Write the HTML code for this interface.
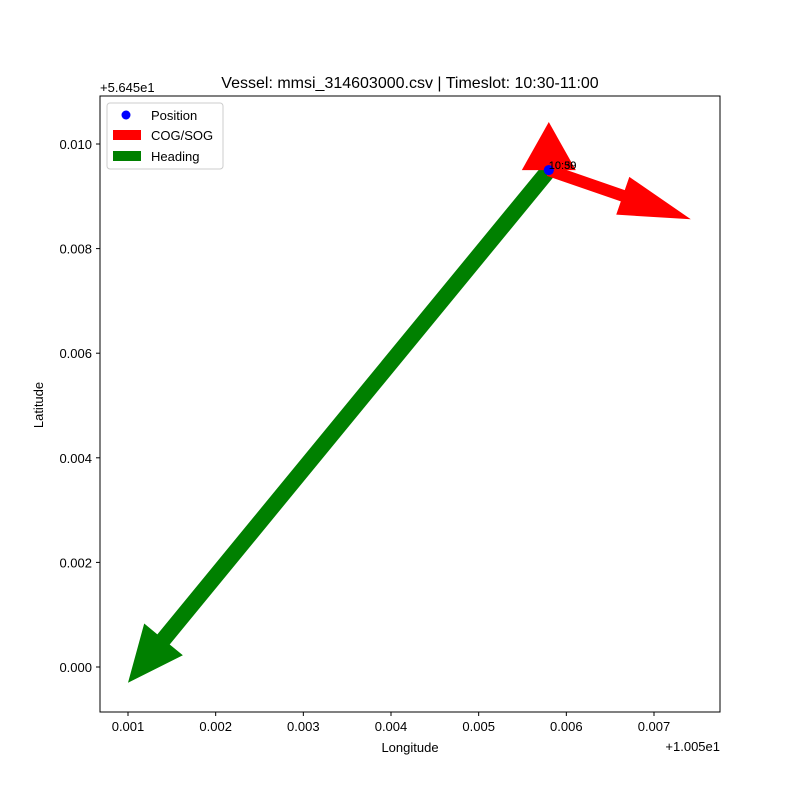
<!DOCTYPE html>
<html><head><meta charset="utf-8"><style>
body{margin:0;background:#fff}
svg{font-family:"Liberation Sans","DejaVu Sans",sans-serif}
</style></head><body>
<svg id="c" width="800" height="800" xmlns="http://www.w3.org/2000/svg">
<rect width="800" height="800" fill="#fff"/>
<g id="plot"></g>
<rect x="100" y="96" width="620" height="616" fill="none" stroke="#000" stroke-width="1"/>
<g id="axes"></g>
<text x="410" y="88" text-anchor="middle" font-size="16">Vessel: mmsi_314603000.csv | Timeslot: 10:30-11:00</text>
<text x="410" y="752" text-anchor="middle" font-size="13">Longitude</text>
<text x="43" y="405" text-anchor="middle" font-size="13" transform="rotate(-90 43 405)">Latitude</text>
<text x="100" y="92" font-size="13">+5.645e1</text>
<text x="720" y="751" text-anchor="end" font-size="13">+1.005e1</text>
<g>
<rect x="107" y="103" width="116" height="66" rx="3" fill="#fff" fill-opacity="0.8" stroke="#ccc"/>
<circle cx="126" cy="115" r="4.5" fill="#0000ff"/>
<text x="151" y="120" font-size="13">Position</text>
<rect x="113" y="130" width="28" height="10" fill="#ff0000"/>
<text x="151" y="140" font-size="13">COG/SOG</text>
<rect x="113" y="151" width="28" height="10" fill="#008000"/>
<text x="151" y="161" font-size="13">Heading</text>
</g>
</svg>
<script>
const xTicks=[0.001,0.002,0.003,0.004,0.005,0.006,0.007];
const yTicks=[0.000,0.002,0.004,0.006,0.008,0.010];
const lon=[0.0058,0.0058];
const lat=[0.0095,0.0095];
const times=["10:30","10:59"];
const cogDx=[0.0,0.00162];
const cogDy=[0.00092,-0.00094];
const headDx=[-0.0048];
const headDy=[-0.0098];
const X=v=>128+(v-0.001)*87667;
const Y=v=>667-v*52300;
const NS="http://www.w3.org/2000/svg";
const plot=document.getElementById('plot'),axes=document.getElementById('axes');
function mk(tag,attrs,parent){const e=document.createElementNS(NS,tag);for(const k in attrs)e.setAttribute(k,attrs[k]);parent.appendChild(e);return e;}
xTicks.forEach(t=>{const x=X(t);
const l=mk('line',{x1:x,x2:x,y1:712,y2:716,stroke:'#000'},axes);


const tx=mk('text',{x:x,y:731,'text-anchor':'middle','font-size':13},axes);tx.textContent=t.toFixed(3);

});
yTicks.forEach(t=>{const y=Y(t);
const l=mk('line',{x1:96,x2:100,y1:y,y2:y,stroke:'#000'},axes);


const tx=mk('text',{x:92,y:y+5,'text-anchor':'end','font-size':13},axes);tx.textContent=t.toFixed(3);

});
function arrow(x0,y0,x1,y1,w,hw,hl,color,name){
const dx=x1-x0,dy=y1-y0,L=Math.hypot(dx,dy),ux=dx/L,uy=dy/L,px=-uy,py=ux;
const h=Math.min(hl,L),bx=x1-ux*h,by=y1-uy*h;
const pts=[[x0+px*w/2,y0+py*w/2],[bx+px*w/2,by+py*w/2],[bx+px*hw/2,by+py*hw/2],[x1,y1],[bx-px*hw/2,by-py*hw/2],[bx-px*w/2,by-py*w/2],[x0-px*w/2,y0-py*w/2]];
const p=mk('polygon',{points:pts.map(q=>q.join(',')).join(' '),fill:color},plot);

}
headDx.forEach((d,i)=>arrow(X(lon[i]),Y(lat[i]),X(lon[i]+d),Y(lat[i]+headDy[i]),16,50,56,'#008000','heading-arrow'));
cogDx.forEach((d,i)=>{const L=Math.hypot(d*87667,cogDy[i]*52300);arrow(X(lon[i]),Y(lat[i]),X(lon[i]+d),Y(lat[i]+cogDy[i]),12,i==0?54:40,i==0?L:72,'#ff0000','cog-arrow');});
lon.forEach((v,i)=>{const c=mk('circle',{cx:X(v),cy:Y(lat[i]),r:5,fill:'#0000ff'},plot);


const t=mk('text',{x:X(v),y:Y(lat[i])-1,'font-size':11},plot);t.textContent=times[i];

});
</script>
</body></html>
